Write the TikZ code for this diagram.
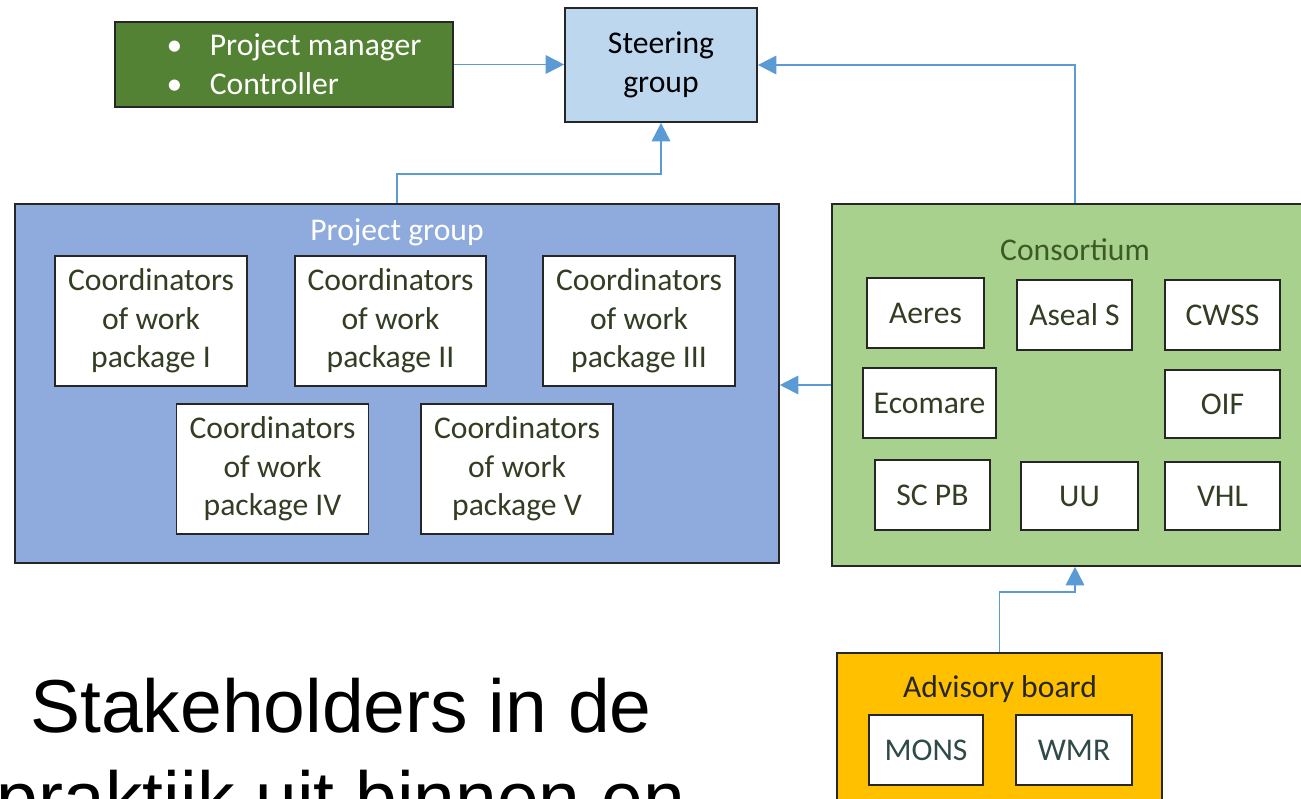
\documentclass[tikz,border=0pt]{standalone}
\usepackage{fontspec}
\setmainfont{Carlito}
\newfontfamily\headfont{Liberation Sans}
\usepackage{tikz}
\usetikzlibrary{arrows.meta}
\definecolor{mgrgreen}{HTML}{548235}
\definecolor{steerblue}{HTML}{BDD7EE}
\definecolor{projblue}{HTML}{8FAADC}
\definecolor{consgreen}{HTML}{A9D18E}
\definecolor{advyellow}{HTML}{FFC000}
\definecolor{linkblue}{HTML}{5B9BD5}
\definecolor{boxtext}{HTML}{333D24}
\definecolor{constext}{HTML}{3D5A25}
\definecolor{advtext}{HTML}{2F4A48}
\tikzset{>=latex}
\tikzstyle{frame}=[draw=black!85,line width=1pt,inner sep=0,align=center,
                   font=\fontsize{18}{22}\selectfont]
\tikzstyle{member}=[frame,fill=white,text=boxtext]
\tikzstyle{group title}=[anchor=base,font=\fontsize{18}{22}\selectfont]
\tikzstyle{link}=[-{Triangle[length=10.5pt,width=10.5pt]},draw=linkblue,line width=1.1pt]
\tikzstyle{headline}=[anchor=base,text=black,font=\headfont\fontsize{42.7}{52}\selectfont]

\begin{document}
\begin{tikzpicture}[x=0.02cm,y=-0.02cm]

            \useasboundingbox (0,0) rectangle (1301,798);
            \clip (0,0) rectangle (1301,798);
            \def\wpw{3.84cm} % work package box
            \def\wph{2.6cm}
            \def\orgw{2.3cm} % member box
            \def\orgh{1.4cm}

            % TOP ROW
            \node[frame,fill=steerblue,minimum width=3.84cm,minimum height=2.28cm]
                 (steer) at (661,65) {Steering\\group};
            \node[frame,fill=mgrgreen,text=white,align=left,minimum width=6.76cm,minimum height=1.7cm]
                 (mgr) at (284,64.5)
                 {\hspace{0.4cm}\textbullet\hspace{0.55cm}Project manager\\
                  \hspace{0.4cm}\textbullet\hspace{0.55cm}Controller};

            % PROJECT GROUP
            \node[frame,fill=projblue,minimum width=15.28cm,minimum height=7.18cm]
                 (proj) at (397,383.5) {};
            \node[group title,text=white] (projtitle) at (397,240) {Project group};
            \node[member,minimum width=\wpw,minimum height=\wph] (wp1) at (151,321)
                 {Coordinators\\of work\\package I};
            \node[member,minimum width=3.82cm,minimum height=\wph] (wp2) at (390.5,321)
                 {Coordinators\\of work\\package II};
            \node[member,minimum width=\wpw,minimum height=\wph] (wp3) at (639,321)
                 {Coordinators\\of work\\package III};
            \node[member,minimum width=\wpw,minimum height=\wph] (wp4) at (272.5,469)
                 {Coordinators\\of work\\package IV};
            \node[member,minimum width=\wpw,minimum height=\wph] (wp5) at (517,469)
                 {Coordinators\\of work\\package V};

            % CONSORTIUM
            \node[frame,fill=consgreen,minimum width=9.72cm,minimum height=7.24cm]
                 (cons) at (1075,385) {};
            \node[group title,text=constext] (constitle) at (1075,260) {Consortium};
            \node[member,minimum width=2.34cm,minimum height=\orgh] (aeres) at (925.5,313) {Aeres};
            \node[member,minimum width=\orgw,minimum height=\orgh] (aseal) at (1074.5,315) {Aseal S};
            \node[member,minimum width=\orgw,minimum height=\orgh] (cwss) at (1222.5,315) {CWSS};
            \node[member,minimum width=2.66cm,minimum height=\orgh] (ecomare) at (929.5,403) {Ecomare};
            \node[member,minimum width=\orgw,minimum height=1.36cm] (oif) at (1222.5,404) {OIF};
            \node[member,minimum width=\orgw,minimum height=\orgh] (scpb) at (932.5,495) {SC PB};
            \node[member,minimum width=2.34cm,minimum height=1.36cm] (uu) at (1079.5,496) {UU};
            \node[member,minimum width=\orgw,minimum height=1.36cm] (vhl) at (1222.5,496) {VHL};

            % ADVISORY BOARD
            \node[frame,fill=advyellow,minimum width=6.5cm,minimum height=3.16cm]
                 (adv) at (999.5,732) {};
            \node[group title,text=black!85] (advtitle) at (1000,697) {Advisory board};
            \node[member,text=advtext,minimum width=2.28cm,minimum height=\orgh] (mons) at (926,750) {MONS};
            \node[member,text=advtext,minimum width=2.32cm,minimum height=\orgh] (wmr) at (1074,750) {WMR};

            % LINKS
            \draw[link] (mgr.east) -- (mgr.east -| steer.west);
            \draw[link] (cons.north) |- (steer.east);
            \draw[link] (proj.north) -- ++(0,-29) -| (steer.south);
            \draw[link] (cons.west) -- (cons.west -| proj.east);
            \draw[link] (adv.north) -- ++(0,-60) -| (cons.south);

            % HEADLINE
            \node[headline] (head1) at (341,732) {Stakeholders in de};
            \node[headline] (head2) at (341,824) {praktijk uit binnen en};

\end{tikzpicture}
\end{document}
